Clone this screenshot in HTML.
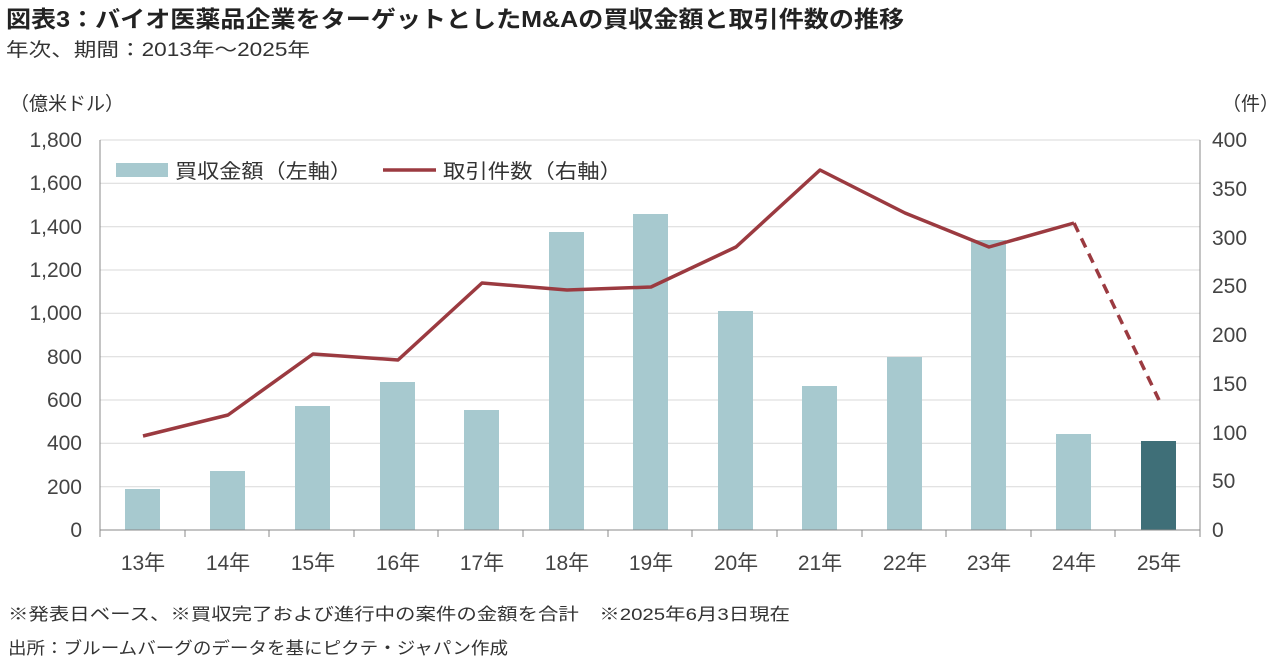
<!DOCTYPE html>
<html><head><meta charset="utf-8"><style>
body{margin:0;background:#fff;width:1280px;height:667px;overflow:hidden;font-family:"Liberation Sans","Noto Sans CJK JP",sans-serif;}
</style></head><body>
<svg width="1280" height="667" xmlns="http://www.w3.org/2000/svg" font-family="Liberation Sans, Noto Sans CJK JP, sans-serif">
<text x="6" y="27" font-size="23" font-weight="bold" fill="#222" textLength="898" lengthAdjust="spacingAndGlyphs">図表3：バイオ医薬品企業をターゲットとしたM&amp;Aの買収金額と取引件数の推移</text>
<text x="6" y="56" font-size="19" fill="#333" textLength="304" lengthAdjust="spacingAndGlyphs">年次、期間：2013年～2025年</text>
<text x="10" y="110" font-size="19" fill="#333">（億米ドル）</text>
<text x="1222" y="110" font-size="19" fill="#333">（件）</text>
<g stroke="#d9d9d9" stroke-width="1">
<line x1="100" x2="1200" y1="140" y2="140"/><line x1="100" x2="1200" y1="183.3" y2="183.3"/><line x1="100" x2="1200" y1="226.7" y2="226.7"/><line x1="100" x2="1200" y1="270" y2="270"/><line x1="100" x2="1200" y1="313.3" y2="313.3"/><line x1="100" x2="1200" y1="356.7" y2="356.7"/><line x1="100" x2="1200" y1="400" y2="400"/><line x1="100" x2="1200" y1="443.3" y2="443.3"/><line x1="100" x2="1200" y1="486.7" y2="486.7"/>
</g>
<g fill="#a7c9cf">
<rect x="125" y="489" width="35" height="41"/>
<rect x="210" y="471" width="35" height="59"/>
<rect x="295" y="406" width="35" height="124"/>
<rect x="380" y="382" width="35" height="148"/>
<rect x="464" y="410" width="35" height="120"/>
<rect x="549" y="232" width="35" height="298"/>
<rect x="633" y="214" width="35" height="316"/>
<rect x="718" y="311" width="35" height="219"/>
<rect x="802" y="386" width="35" height="144"/>
<rect x="887" y="357" width="35" height="173"/>
<rect x="971" y="240" width="35" height="290"/>
<rect x="1056" y="434" width="35" height="96"/>
</g>
<rect x="1141" y="441" width="35" height="89" fill="#3f6f78"/>
<g stroke="#888" stroke-width="1">
<line x1="100" y1="140" x2="100" y2="530"/><line x1="1200" y1="140" x2="1200" y2="530"/><line x1="100" y1="530" x2="1200" y2="530"/>
<line x1="185" y1="530" x2="185" y2="537"/><line x1="269" y1="530" x2="269" y2="537"/><line x1="354" y1="530" x2="354" y2="537"/><line x1="438" y1="530" x2="438" y2="537"/><line x1="523" y1="530" x2="523" y2="537"/><line x1="608" y1="530" x2="608" y2="537"/><line x1="692" y1="530" x2="692" y2="537"/><line x1="777" y1="530" x2="777" y2="537"/><line x1="862" y1="530" x2="862" y2="537"/><line x1="946" y1="530" x2="946" y2="537"/><line x1="1031" y1="530" x2="1031" y2="537"/><line x1="1115" y1="530" x2="1115" y2="537"/><line x1="100" y1="530" x2="100" y2="537"/><line x1="1200" y1="530" x2="1200" y2="537"/>
</g>
<polyline fill="none" stroke="#9b3a40" stroke-width="3.5" stroke-linejoin="round" points="143,436 228,415 313,354 398,360 482,283 567,290 651,287 736,247 820,170 905,213 989,247 1074,223"/>
<line x1="1074" y1="223" x2="1159" y2="400" stroke="#9b3a40" stroke-width="3.5" stroke-dasharray="10,7"/>
<g font-size="21" fill="#444" text-anchor="end">
<text x="82" y="147">1,800</text><text x="82" y="190">1,600</text><text x="82" y="234">1,400</text><text x="82" y="277">1,200</text><text x="82" y="320">1,000</text><text x="82" y="364">800</text><text x="82" y="407">600</text><text x="82" y="450">400</text><text x="82" y="494">200</text><text x="82" y="537">0</text>
</g>
<g font-size="21" fill="#444" text-anchor="start">
<text x="1212" y="147">400</text><text x="1212" y="196">350</text><text x="1212" y="245">300</text><text x="1212" y="293">250</text><text x="1212" y="342">200</text><text x="1212" y="391">150</text><text x="1212" y="440">100</text><text x="1212" y="488">50</text><text x="1212" y="537">0</text>
</g>
<g font-size="21" fill="#444" text-anchor="middle">
<text x="143" y="570">13年</text><text x="228" y="570">14年</text><text x="313" y="570">15年</text><text x="398" y="570">16年</text><text x="482" y="570">17年</text><text x="567" y="570">18年</text><text x="651" y="570">19年</text><text x="736" y="570">20年</text><text x="820" y="570">21年</text><text x="905" y="570">22年</text><text x="989" y="570">23年</text><text x="1074" y="570">24年</text><text x="1159" y="570">25年</text>
</g>
<rect x="116" y="163" width="52" height="14" fill="#a7c9cf"/>
<text x="175" y="178" font-size="20" fill="#333" textLength="177" lengthAdjust="spacingAndGlyphs">買収金額（左軸）</text>
<line x1="383" y1="170" x2="436" y2="170" stroke="#9b3a40" stroke-width="3.5"/>
<text x="443" y="178" font-size="20" fill="#333" textLength="179" lengthAdjust="spacingAndGlyphs">取引件数（右軸）</text>
<text x="8" y="620" font-size="17" fill="#333" textLength="782" lengthAdjust="spacingAndGlyphs">※発表日ベース、※買収完了および進行中の案件の金額を合計　※2025年6月3日現在</text>
<text x="8" y="654" font-size="17" fill="#333" textLength="500" lengthAdjust="spacingAndGlyphs">出所：ブルームバーグのデータを基にピクテ・ジャパン作成</text>
</svg>
</body></html>
